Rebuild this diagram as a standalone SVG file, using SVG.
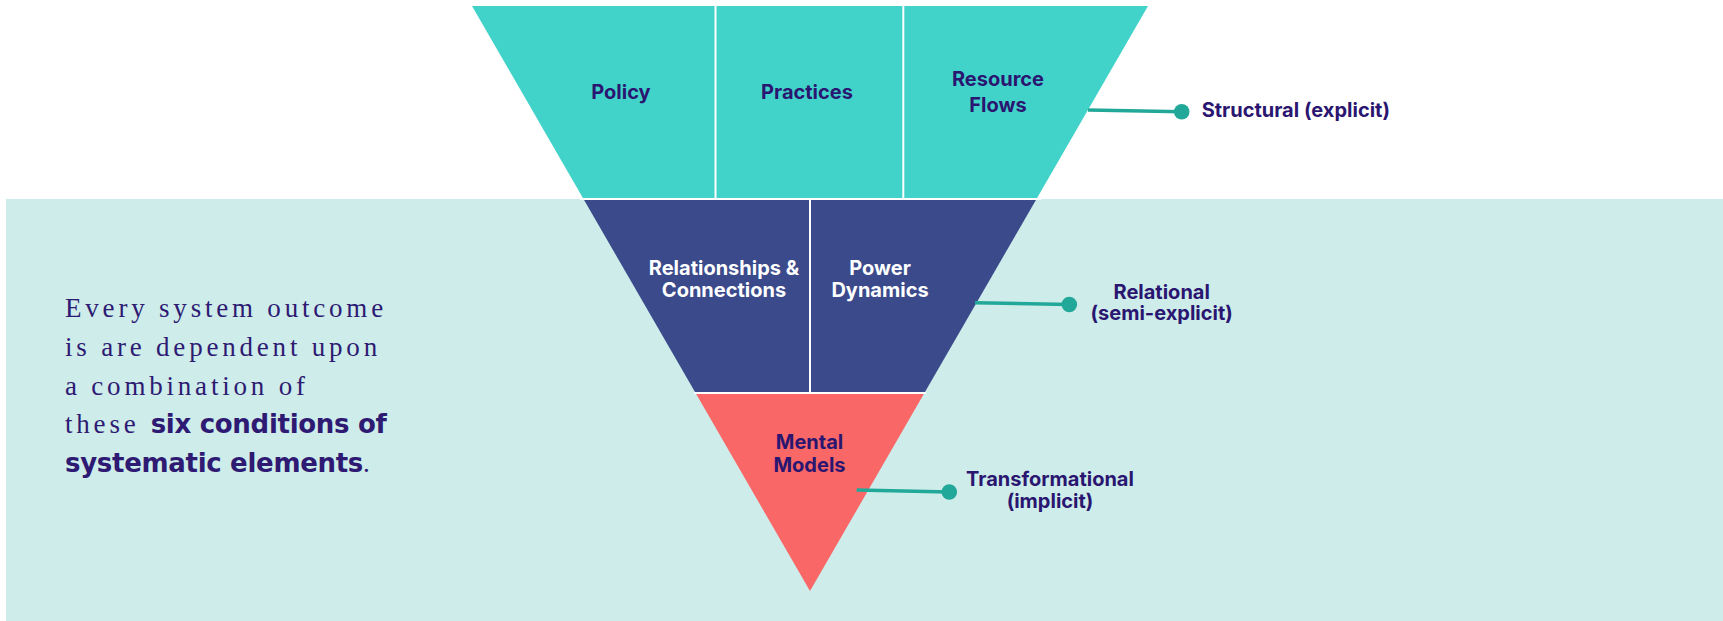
<svg xmlns="http://www.w3.org/2000/svg" width="1723" height="621" viewBox="0 0 1723 621">
<style>
.lbl{font-family:Inter,"Open Sans","Liberation Sans",sans-serif;font-weight:700;font-size:20px;fill:#2A1670;text-anchor:middle}
.lbl.w{fill:#FFFFFF}
.side{font-family:Inter,"Open Sans","Liberation Sans",sans-serif;font-weight:700;font-size:20px;fill:#2A1670}
.para{font-family:"Liberation Serif","Times New Roman",serif;font-size:27px;fill:#2E1A72;letter-spacing:3.8px}
.bold{font-family:"DejaVu Sans",Inter,sans-serif;font-weight:700;font-size:26px;letter-spacing:-0.3px;fill:#2E1A72}
.teal{fill:#41D3C9}
.navy{fill:#3A4A8B}
.coral{fill:#F96767}
.sep{stroke:#FFFFFF;stroke-width:2;fill:none}
.conn{stroke:#22A898;stroke-width:3.5;fill:none}
.dot{fill:#22A898}
</style>
<rect id="background" x="6" y="199" width="1717" height="422" fill="#CDECEA"/>

<g id="policy">
<polygon class="teal" points="472,6 715.5,6 715.5,199 583.5,199"/>
<text class="lbl" x="621" y="99">Policy</text>
</g>
<g id="practices">
<polygon class="teal" points="715.5,6 903.3,6 903.3,199 715.5,199"/>
<text class="lbl" x="807" y="99">Practices</text>
</g>
<g id="resource-flows">
<polygon class="teal" points="903.3,6 1148,6 1036.5,199 903.3,199"/>
<text class="lbl" x="998" y="86">Resource</text>
<text class="lbl" x="998" y="112">Flows</text>
</g>
<g id="relationships">
<polygon class="navy" points="583.5,199 810,199 810,393 695.6,393"/>
<text class="lbl w" x="724" y="275">Relationships &amp;</text>
<text class="lbl w" x="724" y="297">Connections</text>
</g>
<g id="power-dynamics">
<polygon class="navy" points="810,199 1036.5,199 924.4,393 810,393"/>
<text class="lbl w" x="880" y="275">Power</text>
<text class="lbl w" x="880" y="297">Dynamics</text>
</g>
<g id="mental-models">
<polygon class="coral" points="695.6,393 924.4,393 810,591"/>
<text class="lbl" x="809.5" y="449">Mental</text>
<text class="lbl" x="809.5" y="471.5">Models</text>
</g>

<g id="dividers">
<line class="sep" x1="715.5" y1="6" x2="715.5" y2="199"/>
<line class="sep" x1="903.3" y1="6" x2="903.3" y2="199"/>
<line class="sep" x1="580" y1="199" x2="1041" y2="199"/>
<line class="sep" x1="810" y1="199" x2="810" y2="393"/>
<line class="sep" x1="694" y1="393" x2="926" y2="393"/>
</g>

<g id="connectors">
<line class="conn" x1="1088" y1="110" x2="1181.7" y2="111.7"/>
<circle class="dot" cx="1181.7" cy="111.7" r="7.8"/>
<line class="conn" x1="975" y1="302.7" x2="1069.3" y2="304.5"/>
<circle class="dot" cx="1069.3" cy="304.5" r="7.8"/>
<line class="conn" x1="856.7" y1="490" x2="949.3" y2="492"/>
<circle class="dot" cx="949.3" cy="492" r="7.8"/>
</g>

<g id="structural">
<text class="side" x="1201.7" y="117">Structural (explicit)</text>
</g>
<g id="relational">
<text class="side" x="1161.7" y="299" text-anchor="middle">Relational</text>
<text class="side" x="1161.7" y="320" text-anchor="middle">(semi-explicit)</text>
</g>
<g id="transformational">
<text class="side" x="1050" y="486" text-anchor="middle">Transformational</text>
<text class="side" x="1050" y="508" text-anchor="middle">(implicit)</text>
</g>

<g id="description">
<text class="para" x="65" y="316.7">Every system outcome</text>
<text class="para" x="65" y="356">is are dependent upon</text>
<text class="para" x="65" y="395">a combination of</text>
<text x="65" y="433.3"><tspan class="para">these</tspan><tspan class="bold" x="150.7">six conditions of</tspan></text>
<text x="65" y="471.7"><tspan class="bold">systematic elements</tspan><tspan class="para" letter-spacing="0">.</tspan></text>
</g>
</svg>
